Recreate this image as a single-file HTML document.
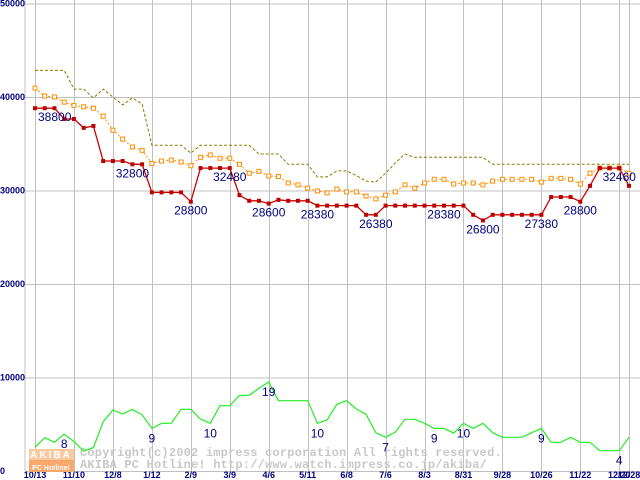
<!DOCTYPE html>
<html><head><meta charset="utf-8">
<style>
html,body{margin:0;padding:0;background:#fff;}
svg{display:block;}
.ax{font-family:"Liberation Sans",sans-serif;font-weight:bold;font-size:9px;fill:#000080;}
.pl{font-family:"Liberation Sans",sans-serif;font-size:12px;fill:#000080;}
.wm{font-family:"Liberation Mono",monospace;font-weight:bold;font-size:12px;fill:#c8c8c8;letter-spacing:0.2px;}
</style></head>
<body>
<svg id="chart" width="640" height="480" viewBox="0 0 640 480" xmlns="http://www.w3.org/2000/svg">
<g id="grid"></g>
<g id="wmark">
  <rect x="29" y="449" width="45" height="11" fill="#fbc9a0"/>
  <rect x="29" y="460" width="45" height="12" fill="#f7a86a"/>
  <text x="51" y="458" text-anchor="middle" style="font-family:'Liberation Sans',sans-serif;font-weight:bold;font-size:10px;fill:#fff;letter-spacing:2px">AKIBA</text>
  <text x="51" y="470" text-anchor="middle" style="font-family:'Liberation Sans',sans-serif;font-weight:bold;font-size:7px;fill:#fff">PC Hotline!</text>
  <text class="wm" x="80" y="456">Copyright(c)2002 impress corporation All rights reserved.</text>
  <text class="wm" x="80" y="468">AKIBA PC Hotline!  http://www.watch.impress.co.jp/akiba/</text>
</g>
<g id="series"></g>
<g id="labels"></g>
</svg>
<script>
const yTicks = [0,10000,20000,30000,40000,50000];
const xTickIdx = [0,4,8,12,16,20,24,28,32,36,40,44,48,52,56,60,61];
const xTickLabels = ["10/13","11/10","12/8","1/12","2/9","3/9","4/6","5/11","6/8","7/6","8/3","8/31","9/28","10/26","11/22","12/20","12/28"];
const minPrice = [38800,38800,38800,37650,37650,36700,36900,33150,33150,33150,32800,32800,29800,29800,29800,29800,28800,32400,32400,32400,32400,29500,28900,28900,28600,29000,28900,28900,28900,28380,28380,28380,28380,28380,27400,27400,28380,28380,28380,28380,28380,28380,28380,28380,28380,27400,26800,27400,27400,27400,27400,27400,27400,29300,29300,29300,28800,30500,32400,32400,32400,30500];
const avgPrice = [40950,40100,40000,39450,39100,38950,38800,37950,36450,35500,34650,34300,32900,33150,33250,33050,32650,33550,33800,33450,33450,32800,31850,32050,31550,31500,30800,30600,30250,29950,29750,30150,29850,29850,29400,29100,29500,29850,30600,30250,30800,31200,31200,30700,30800,30800,30600,31000,31200,31200,31200,31200,30900,31300,31300,31200,30700,31850,32400,32400,32400,31850];
const maxPrice = [42850,42850,42850,42850,40850,40850,39900,40850,40000,39150,39900,39250,34850,34850,34850,34850,34000,34850,34850,34850,34850,34850,34850,33900,33900,33900,32800,32800,32800,31450,31450,32100,32100,31600,31000,30900,31850,32950,33900,33550,33550,33550,33550,33550,33550,33550,33550,32800,32800,32800,32800,32800,32800,32800,32800,32800,32800,32800,32800,32800,32800,32800];
const shopCount = [2530,3560,3070,3950,3130,2140,2500,5270,6520,6100,6600,6000,4560,5100,5100,6600,6600,5560,5100,6980,6980,8100,8100,8840,9520,7520,7520,7520,7520,5100,5450,7130,7520,6630,6060,4100,3600,4150,5530,5530,5100,4560,4560,4050,5100,4560,5100,4100,3600,3600,3600,4100,4560,3070,3070,3600,3070,3070,2170,2170,2170,3600];
const priceLabelIdx = [0,10,16,20,24,29,35,42,46,52,56,60];
const priceLabelText = ["38800","32800","28800","32480","28600","28380","26380","28380","26800","27380","28800","32460"];
const countLabelIdx = [3,12,18,24,29,36,41,44,52,60];
const countLabelText = ["8","9","10","19","10","7","9","10","9","4"];

const NS="http://www.w3.org/2000/svg";
function X(i){return 35+i*(594/61);}
function Y(v){return 471-v*(467.5/50000);}
function mk(tag,attrs,parent){const e=document.createElementNS(NS,tag);for(const k in attrs)e.setAttribute(k,attrs[k]);parent.appendChild(e);return e;}
const grid=document.getElementById('grid'),ser=document.getElementById('series'),lab=document.getElementById('labels');

mk('line',{x1:25,y1:0,x2:25,y2:471,stroke:'#c0c0c0','stroke-width':1},grid);
yTicks.forEach(v=>{
  const l=mk('line',{x1:25,x2:640,y1:Y(v)+0.5,y2:Y(v)+0.5,stroke:'#c0c0c0','stroke-width':1},grid);
  
  
  const t=mk('text',{x:0,y:Y(v)+3,class:'ax'},grid);
  t.textContent=v;
  
  
});
xTickIdx.forEach((i,k)=>{
  const x=Math.round(X(i))+0.5;
  const l=mk('line',{x1:x,x2:x,y1:0,y2:471,stroke:'#c0c0c0','stroke-width':1},grid);
  
  
  const t=mk('text',{x:X(i),y:478,class:'ax','text-anchor':'middle'},grid);
  t.textContent=xTickLabels[k];
  
  
});
function pts(arr){return arr.map((v,i)=>X(i).toFixed(1)+','+Y(v).toFixed(1)).join(' ');}
let p;
p=mk('polyline',{points:pts(shopCount),fill:'none',stroke:'#22ee22','stroke-width':1.2},ser);


p=mk('polyline',{points:pts(maxPrice),fill:'none',stroke:'#808000','stroke-width':1,'stroke-dasharray':'3,2'},ser);


p=mk('polyline',{points:pts(avgPrice),fill:'none',stroke:'#ff8c00','stroke-width':1,'stroke-dasharray':'2,2'},ser);


avgPrice.forEach((v,i)=>{
  const r=mk('rect',{x:X(i)-2,y:Y(v)-2,width:4,height:4,fill:'#fff',stroke:'#ff8c00','stroke-width':1},ser);
  
  
});
p=mk('polyline',{points:pts(minPrice),fill:'none',stroke:'#cc0000','stroke-width':1.3},ser);


minPrice.forEach((v,i)=>{
  const r=mk('rect',{x:X(i)-2,y:Y(v)-2,width:4,height:4,fill:'#bb0000'},ser);
  
  
});
priceLabelIdx.forEach((i,k)=>{
  const t=mk('text',{x:i===0?X(i)+3:X(i),y:Y(minPrice[i])+13,class:'pl','text-anchor':i===0?'start':'middle'},lab);
  t.textContent=priceLabelText[k];
  
  
});
countLabelIdx.forEach((i,k)=>{
  const t=mk('text',{x:X(i),y:Y(shopCount[i])+14,class:'pl','text-anchor':'middle'},lab);
  t.textContent=countLabelText[k];
  
  
});
</script>
</body></html>
